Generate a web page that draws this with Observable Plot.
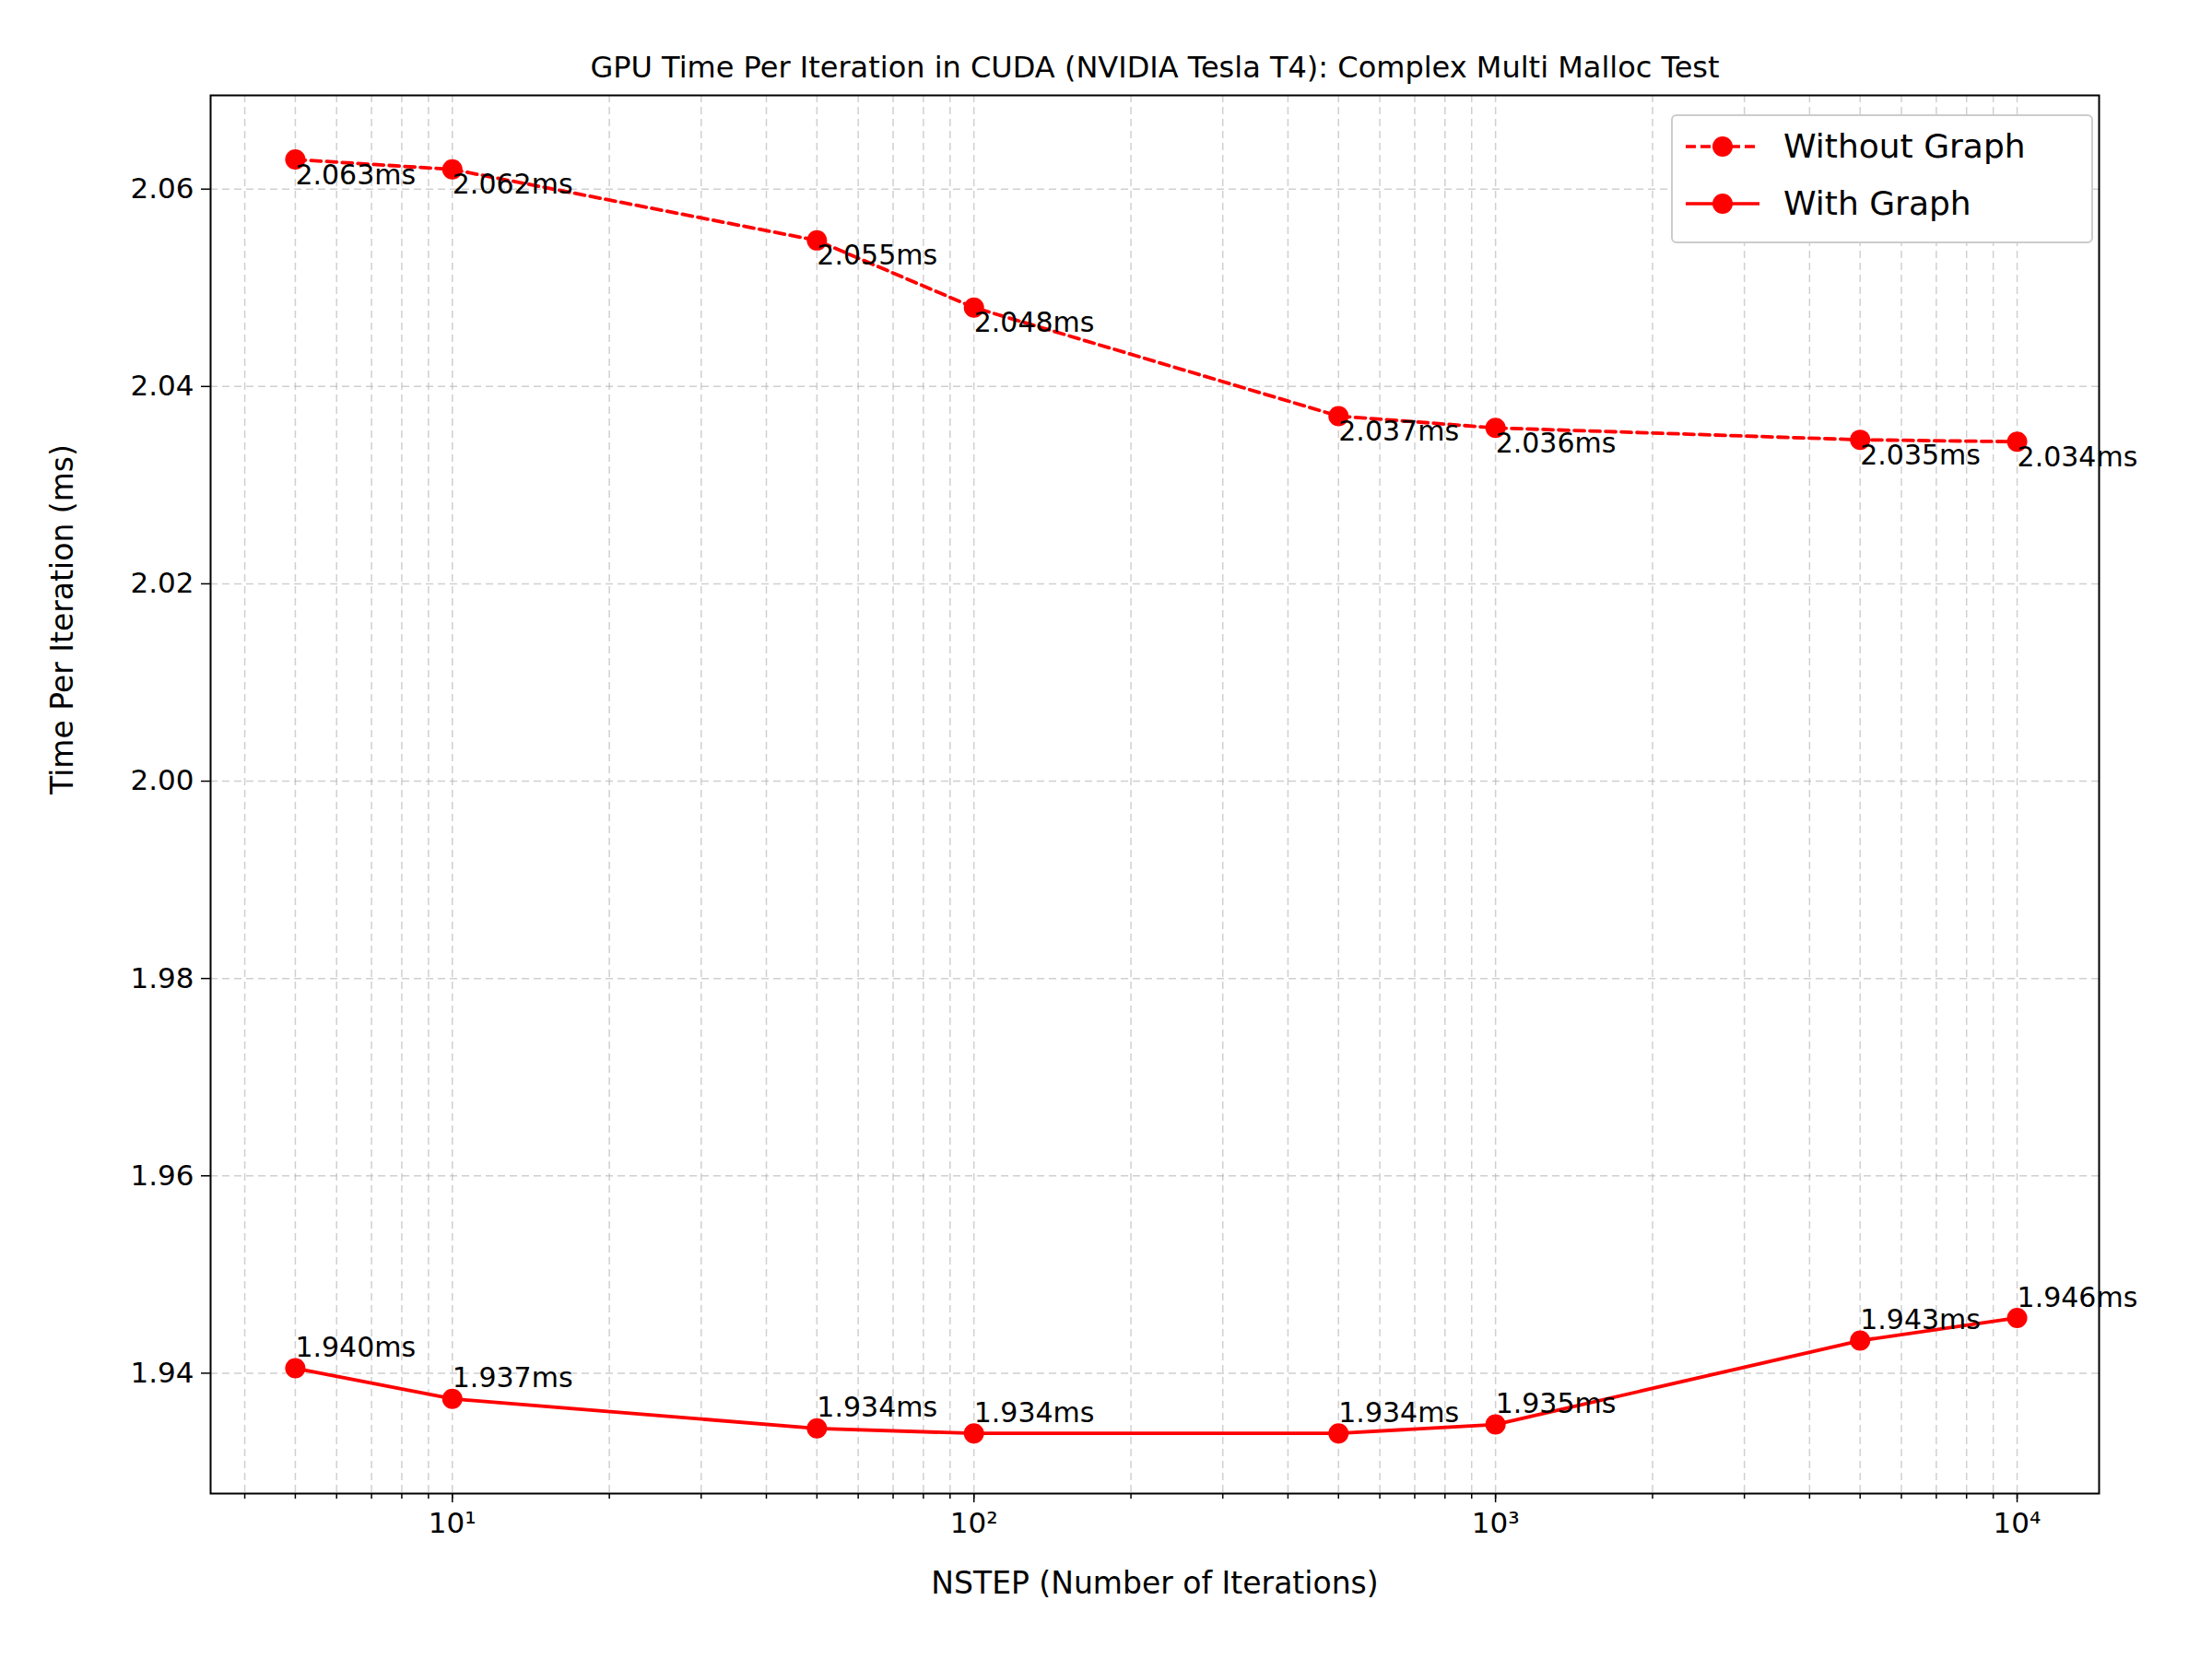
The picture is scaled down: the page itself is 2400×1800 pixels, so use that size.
<!DOCTYPE html>
<html><head><meta charset="utf-8">
<script src="https://cdn.jsdelivr.net/npm/d3@7"></script>
<script src="https://cdn.jsdelivr.net/npm/@observablehq/plot@0.6"></script>
<style>
body{margin:0;background:#fff;font-family:"DejaVu Sans",sans-serif}
#wrap{position:relative;width:2400px;height:1800px}
#legend{position:absolute;left:1813px;top:124px;width:458px;height:140px;border:2px solid #ccc;border-radius:6px;background:#fff;font-size:36px;box-sizing:border-box}
.row{position:absolute;left:14px;display:flex;align-items:center}
.row span{margin-left:26px}
</style></head>
<body><div id="wrap"><div id="chart"></div>
<div id="legend">
 <div class="row" style="top:12px"><svg width="80" height="30"><line x1="0" y1="15" x2="80" y2="15" stroke="red" stroke-width="3.5" stroke-dasharray="11,5"/><circle cx="40" cy="15" r="11" fill="red"/></svg><span>Without Graph</span></div>
 <div class="row" style="top:74px"><svg width="80" height="30"><line x1="0" y1="15" x2="80" y2="15" stroke="red" stroke-width="3.5"/><circle cx="40" cy="15" r="11" fill="red"/></svg><span>With Graph</span></div>
</div></div>
<script>
const nstep = [5, 10, 50, 100, 500, 1000, 5000, 10000];
const withoutGraph = [2.0630, 2.0620, 2.0548, 2.0480, 2.0370, 2.0358, 2.0346, 2.0344];
const withGraph = [1.9405, 1.9374, 1.9344, 1.9339, 1.9339, 1.9348, 1.9433, 1.9456];
const yTicks = [1.94, 1.96, 1.98, 2.00, 2.02, 2.04, 2.06];
const xMajor = [10, 100, 1000, 10000];
const sup = {1: "¹", 2: "²", 3: "³", 4: "⁴"};

const wo = nstep.map((x, i) => ({x, y: withoutGraph[i]}));
const wg = nstep.map((x, i) => ({x, y: withGraph[i]}));
const xMinor = [];
for (let e = 0; e <= 4; e++) for (let m = 1; m <= 9; m++) {
  const v = m * 10 ** e;
  if (v >= 4 && v <= 14000) xMinor.push(v);
}

const chart = Plot.plot({
  width: 2400, height: 1800,
  marginLeft: 228, marginRight: 123, marginTop: 103, marginBottom: 180,
  style: {fontFamily: "DejaVu Sans", fontSize: "30px", color: "black"},
  x: {type: "log", domain: [3.44, 14360], label: null, axis: null},
  y: {domain: [1.9278, 2.0695], label: null, axis: null},
  marks: [
    Plot.gridX(xMinor, {stroke: "#b0b0b0", strokeOpacity: 0.6, strokeDasharray: "8,5", strokeWidth: 1.5}),
    Plot.gridY(yTicks, {stroke: "#b0b0b0", strokeOpacity: 0.6, strokeDasharray: "8,5", strokeWidth: 1.5}),
    Plot.axisX(xMinor, {tickSize: 6, tickFormat: () => "", strokeWidth: 1.5}),
    Plot.axisX(xMajor, {tickSize: 10, tickPadding: 10, strokeWidth: 1.5, fontSize: 31,
      tickFormat: d => "10" + sup[Math.round(Math.log10(d))]}),
    Plot.axisY(yTicks, {tickSize: 10, tickPadding: 8, strokeWidth: 1.5, fontSize: 31, tickFormat: d3.format(".2f")}),
    Plot.frame({stroke: "black", strokeWidth: 2}),
    Plot.line(wo, {x: "x", y: "y", stroke: "red", strokeWidth: 3.8, strokeDasharray: "11,6"}),
    Plot.line(wg, {x: "x", y: "y", stroke: "red", strokeWidth: 3.8}),
    Plot.dot(wo, {x: "x", y: "y", r: 11, fill: "red"}),
    Plot.dot(wg, {x: "x", y: "y", r: 11, fill: "red"}),
    Plot.text(wo, {x: "x", y: "y", text: d => d.y.toFixed(3) + "ms", textAnchor: "start", dy: 17, fontSize: 30}),
    Plot.text(wg, {x: "x", y: "y", text: d => d.y.toFixed(3) + "ms", textAnchor: "start", dy: -22, fontSize: 30}),
    Plot.text(["GPU Time Per Iteration in CUDA (NVIDIA Tesla T4): Complex Multi Malloc Test"],
      {frameAnchor: "top", dy: -42, fontSize: 32}),
    Plot.text(["NSTEP (Number of Iterations)"], {frameAnchor: "bottom", dy: 108, fontSize: 33}),
    Plot.text(["Time Per Iteration (ms)"], {frameAnchor: "left", dx: -160, rotate: -90, fontSize: 33})
  ]
});
document.getElementById("chart").append(chart);
</script></body></html>
